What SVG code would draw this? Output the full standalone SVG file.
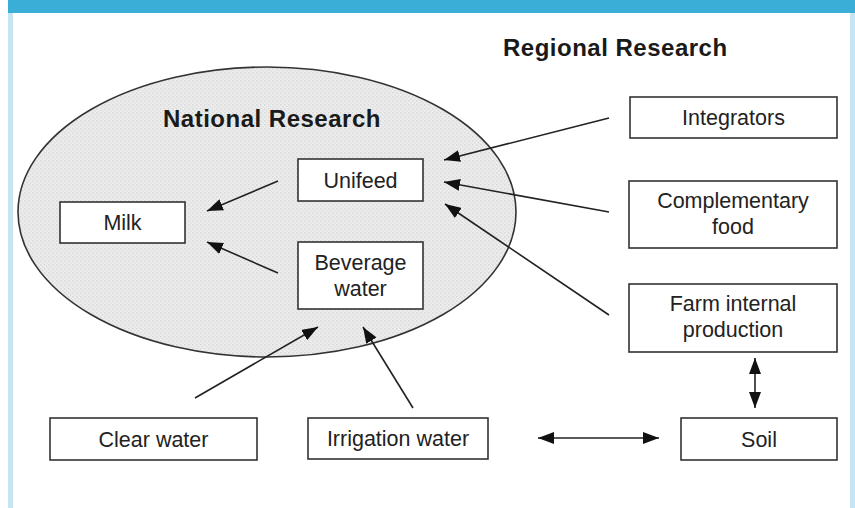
<svg xmlns="http://www.w3.org/2000/svg" width="855" height="508" viewBox="0 0 855 508">
  <defs>
    <style>
      .box { fill: #ffffff; stroke: #333333; stroke-width: 1.6; }
      .lbl { font-family: "Liberation Sans", Arial, sans-serif; font-size: 21.5px; fill: #222222; text-anchor: middle; }
      .title { font-family: "Liberation Sans", Arial, sans-serif; font-size: 24px; font-weight: bold; fill: #1a1a1a; letter-spacing: 0.5px; }
      .conn { stroke: #222222; stroke-width: 1.6; fill: none; }
    </style>
    <pattern id="dots" width="4" height="4" patternUnits="userSpaceOnUse">
      <rect width="4" height="4" fill="#ececec"/>
      <rect x="0" y="0" width="1.5" height="1.5" fill="#d8d8d8"/>
      <rect x="2" y="2" width="1.5" height="1.5" fill="#dedede"/>
    </pattern>
    <marker id="head" viewBox="0 0 16 12" refX="16" refY="6" markerWidth="16" markerHeight="12" markerUnits="userSpaceOnUse" orient="auto-start-reverse">
      <path d="M0,0 L16,6 L0,12 z" fill="#111111"/>
    </marker>
  </defs>

  <!-- frame -->
  <rect x="0" y="0" width="855" height="508" fill="#ffffff"/>
  <rect x="8" y="0" width="847" height="13" fill="#3aaed6"/>
  <rect x="8" y="13" width="5" height="495" fill="#c6e4f4"/>
  <rect x="850" y="13" width="5" height="495" fill="#c6e4f4"/>

  <!-- national research area -->
  <g id="national">
    <ellipse cx="267" cy="212" rx="249" ry="145" fill="url(#dots)" stroke="#333333" stroke-width="1.6"/>
    <text class="title" x="163" y="127">National Research</text>
  </g>
  <text id="regional" class="title" x="503" y="56">Regional Research</text>

  <!-- connectors -->
  <g id="connectors">
    <line class="conn" x1="278" y1="181" x2="207" y2="211" marker-end="url(#head)"/>
    <line class="conn" x1="278" y1="273" x2="207" y2="242" marker-end="url(#head)"/>
    <line class="conn" x1="609" y1="118" x2="444" y2="160" marker-end="url(#head)"/>
    <line class="conn" x1="609" y1="212" x2="444" y2="182" marker-end="url(#head)"/>
    <line class="conn" x1="609" y1="315" x2="445" y2="204" marker-end="url(#head)"/>
    <line class="conn" x1="195" y1="398" x2="318" y2="327" marker-end="url(#head)"/>
    <line class="conn" x1="413" y1="408" x2="363" y2="327" marker-end="url(#head)"/>
    <line class="conn" x1="538" y1="438" x2="659" y2="438" marker-start="url(#head)" marker-end="url(#head)"/>
    <line class="conn" x1="755" y1="358" x2="755" y2="408" marker-start="url(#head)" marker-end="url(#head)"/>
  </g>

  <!-- nodes -->
  <g id="milk">
    <rect class="box" x="60" y="202" width="125" height="41"/>
    <text class="lbl" x="122.5" y="230">Milk</text>
  </g>
  <g id="unifeed">
    <rect class="box" x="298" y="159" width="125" height="42"/>
    <text class="lbl" x="360.5" y="188">Unifeed</text>
  </g>
  <g id="beverage-water">
    <rect class="box" x="298" y="242" width="125" height="67"/>
    <text class="lbl" x="360.5" y="270">Beverage</text>
    <text class="lbl" x="360.5" y="296">water</text>
  </g>
  <g id="integrators">
    <rect class="box" x="630" y="97" width="207" height="41"/>
    <text class="lbl" x="733.5" y="125">Integrators</text>
  </g>
  <g id="complementary-food">
    <rect class="box" x="629" y="181" width="208" height="67"/>
    <text class="lbl" x="733" y="208">Complementary</text>
    <text class="lbl" x="733" y="234">food</text>
  </g>
  <g id="farm-internal-production">
    <rect class="box" x="629" y="284" width="208" height="68"/>
    <text class="lbl" x="733" y="311">Farm internal</text>
    <text class="lbl" x="733" y="337">production</text>
  </g>
  <g id="clear-water">
    <rect class="box" x="50" y="418" width="207" height="42"/>
    <text class="lbl" x="153.5" y="447">Clear water</text>
  </g>
  <g id="irrigation-water">
    <rect class="box" x="308" y="418" width="180" height="41"/>
    <text class="lbl" x="398" y="446">Irrigation water</text>
  </g>
  <g id="soil">
    <rect class="box" x="681" y="418" width="156" height="42"/>
    <text class="lbl" x="759" y="447">Soil</text>
  </g>
</svg>
